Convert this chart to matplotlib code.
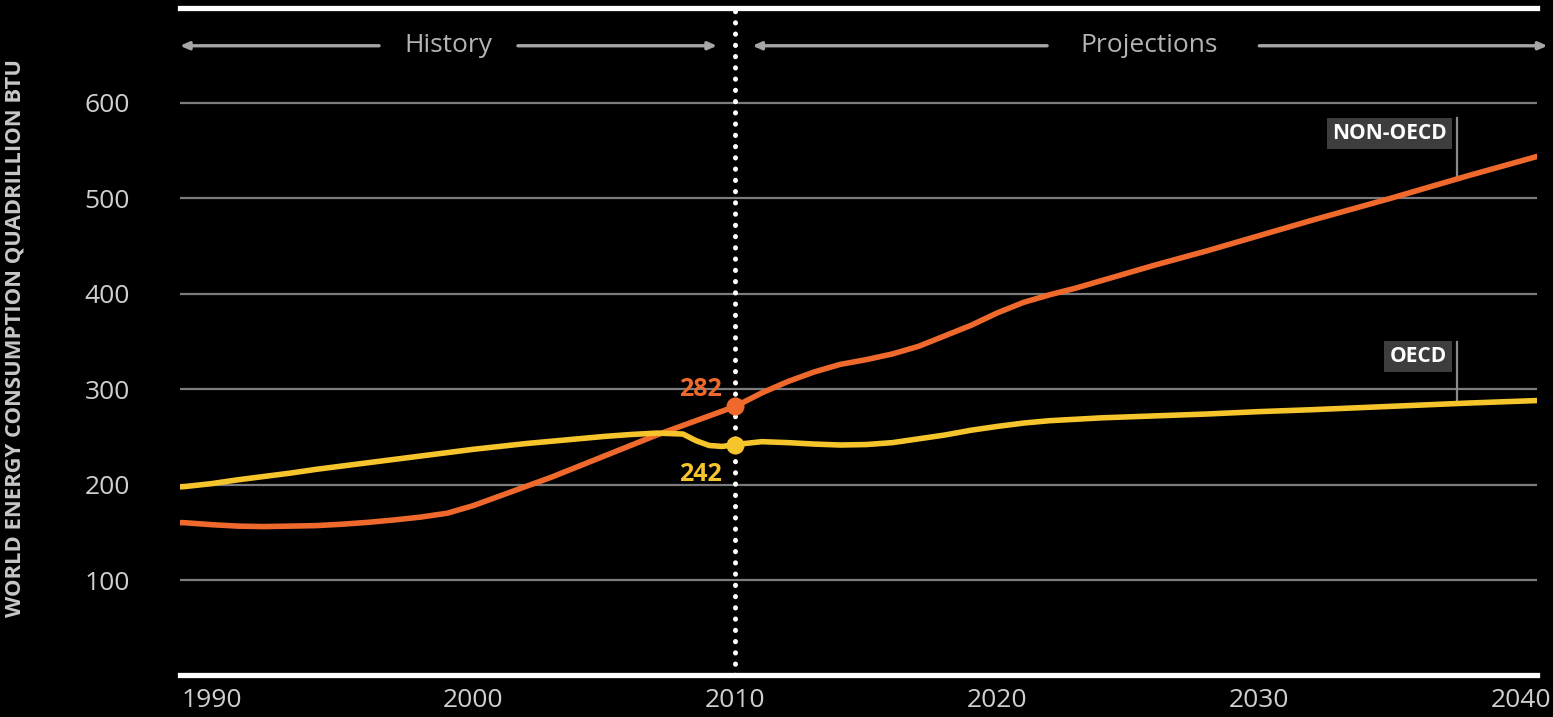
import numpy as np
import matplotlib
matplotlib.use("Agg")
import matplotlib.pyplot as plt

plt.rcParams['font.family'] = ['Open Sans', 'DejaVu Sans']

# world energy consumption, quadrillion btu
years = [1988, 1989, 1990, 1991, 1992, 1993, 1994, 1995, 1996, 1997, 1998, 1999,
         2000, 2001, 2002, 2003, 2004, 2005, 2006, 2007, 2008, 2008.5, 2009, 2009.5,
         2010, 2011, 2012, 2013, 2014, 2015, 2016, 2017, 2018, 2019, 2020, 2021,
         2022, 2023, 2024, 2025, 2026, 2028, 2030, 2032, 2035, 2038, 2041]
non_oecd = [161, 160, 158, 156.5, 156, 156.5, 157, 158.5, 160.5, 163, 166, 170,
            178, 188, 198, 208, 219, 230, 241, 252, 262, 267, 272, 277,
            282, 296, 308, 318, 326, 331, 337, 345, 356, 367, 380, 391,
            399, 406, 414, 422, 430, 445, 461, 477, 500, 524, 547]
oecd = [196, 198, 201, 205, 208.5, 212, 216, 219.5, 223, 226.5, 230, 233.5,
        237, 240, 243, 245.5, 248, 250.5, 252.5, 254, 253, 246, 241, 240,
        242, 245, 244, 242.5, 241.5, 242, 244, 248, 252, 257, 261, 264.5,
        267, 268.5, 270, 271, 272, 274, 276.5, 278.5, 282, 285.5, 288.5]

x_ticks = [1990, 2000, 2010, 2020, 2030, 2040]
y_ticks = [100, 200, 300, 400, 500, 600]
base_year = 2010

orange = '#f0692c'
yellow = '#f6c52c'
grey = '#a6a6a6'

fig = plt.figure(figsize=(15.53, 7.17), dpi=100, facecolor='black')
ax = fig.add_axes([180/1553, 41.6/717, 1357/1553, 667.8/717])
ax.set_facecolor('black')
ax.set_xlim(1988.8, 2040.6)
ax.set_ylim(0, 700)
for s in ax.spines.values():
    s.set_visible(False)

# grid
for v in y_ticks:
    ax.axhline(v, color='#7c7c7c', lw=1.6, zorder=1)
ax.axhline(700, color='white', lw=3.8, clip_on=False, zorder=2)
ax.axhline(0, color='white', lw=3.8, clip_on=False, zorder=2)

# history / projections divider
ax.plot([base_year, base_year], [0, 700], color='white', lw=3.6,
        linestyle=(0, (0.05, 2.2)), dash_capstyle='round', zorder=3, clip_on=False)

ax.plot(years, non_oecd, color=orange, lw=4, solid_capstyle='butt',
        solid_joinstyle='round', zorder=4)
ax.plot(years, oecd, color=yellow, lw=4, solid_capstyle='butt',
        solid_joinstyle='round', zorder=4)

i0 = years.index(base_year)
ax.plot(base_year, non_oecd[i0], 'o', color=orange, ms=12, zorder=5)
ax.plot(base_year, oecd[i0], 'o', color=yellow, ms=12, zorder=5)
ax.text(2009.5, non_oecd[i0] + 18, str(non_oecd[i0]), color=orange, fontsize=18,
        fontweight='bold', ha='right', va='center')
ax.text(2009.5, oecd[i0] - 31, str(oecd[i0]), color=yellow, fontsize=18,
        fontweight='bold', ha='right', va='center')

# ticks
ax.set_xticks(x_ticks)
ax.set_xticklabels([str(x) for x in x_ticks])
ax.set_yticks(y_ticks)
ax.set_yticklabels([str(v) for v in y_ticks])
ax.tick_params(length=0, colors='#cfcfcf', labelsize=19)
ax.tick_params(axis='y', pad=36)
ax.tick_params(axis='x', pad=9)
ax.set_ylabel('WORLD ENERGY CONSUMPTION QUADRILLION BTU', color='#c8c8c8',
              fontsize=15.8, fontweight='bold')
ax.yaxis.set_label_coords(-0.114, 0.505)

# header arrows
ya = 660
arrow = dict(arrowstyle='-|>,head_length=0.5,head_width=0.22', color=grey, lw=2.4,
             shrinkA=0, shrinkB=0)
ax.annotate('', xy=(1988.8, ya), xytext=(1996.4, ya), arrowprops=arrow, annotation_clip=False)
ax.annotate('', xy=(2009.3, ya), xytext=(2001.7, ya), arrowprops=arrow, annotation_clip=False)
ax.annotate('', xy=(2010.65, ya), xytext=(2021.9, ya), arrowprops=arrow, annotation_clip=False)
ax.annotate('', xy=(2041.0, ya), xytext=(2030.0, ya), arrowprops=arrow, annotation_clip=False)
ax.text(1999.05, ya, 'History', color='#b4b4b4', fontsize=19, ha='center', va='center')
ax.text(2025.8, ya, 'Projections', color='#b4b4b4', fontsize=19, ha='center', va='center')

# series tags
lx = 2037.55
ax.plot([lx, lx], [584, np.interp(lx, years, non_oecd)], color='#8a8a8a', lw=1.6, zorder=3)
ax.plot([lx, lx], [349, np.interp(lx, years, oecd)], color='#8a8a8a', lw=1.6, zorder=3)
box = dict(boxstyle='square,pad=0.25', fc='#3d3d3d', ec='none')
ax.text(2037.15, 568, 'NON-OECD', color='white', fontsize=15, fontweight='bold',
        ha='right', va='center', bbox=box)
ax.text(2037.15, 334, 'OECD', color='white', fontsize=15, fontweight='bold',
        ha='right', va='center', bbox=box)

fig.savefig('out.png', dpi=100, facecolor='black')
